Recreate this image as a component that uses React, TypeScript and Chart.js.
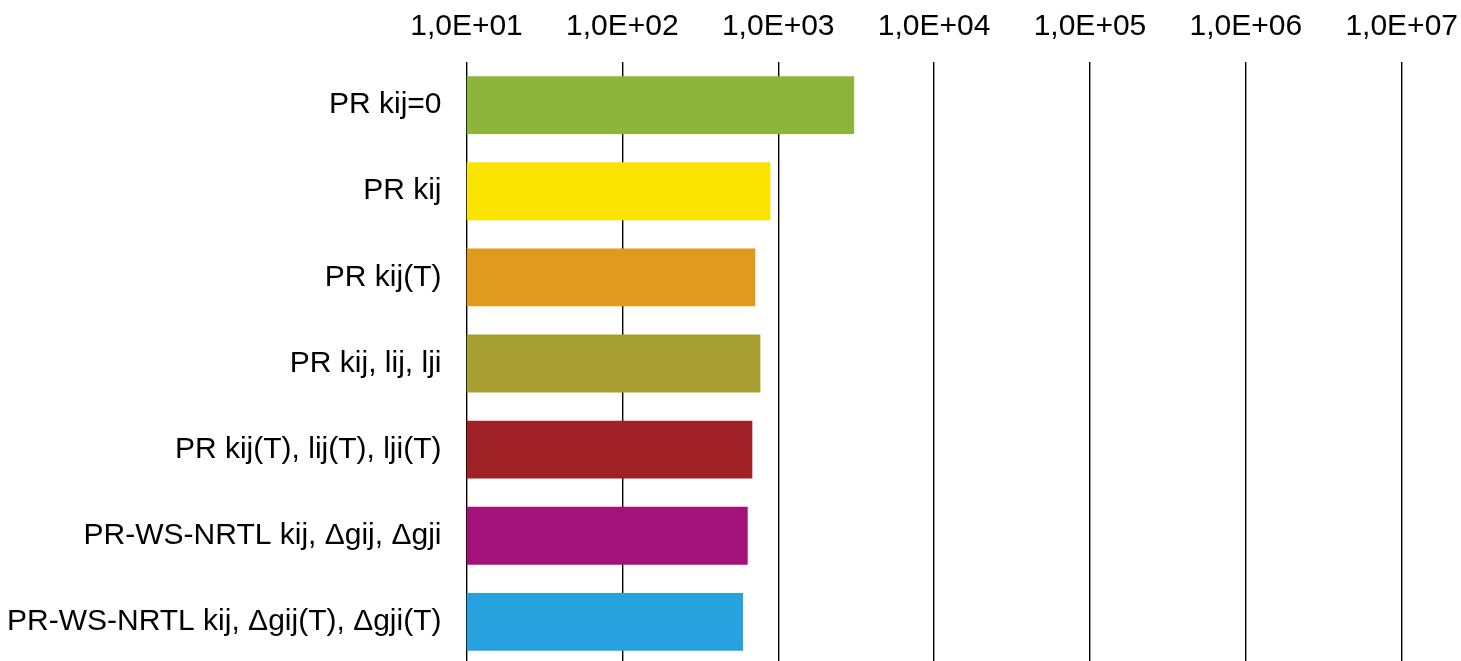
import React, { useEffect, useRef } from "react";
import { Chart, registerables } from "chart.js";

Chart.register(...registerables);

const categories = [
  "PR kij=0",
  "PR kij",
  "PR kij(T)",
  "PR kij, lij, lji",
  "PR kij(T), lij(T), lji(T)",
  "PR-WS-NRTL kij, Δgij, Δgji",
  "PR-WS-NRTL kij, Δgij(T), Δgji(T)",
];

const values = [3070, 891, 713, 768, 682, 637, 595];

const barColors = [
  "#8DB53C",
  "#FBE300",
  "#E09B1F",
  "#A89F33",
  "#A02125",
  "#A21278",
  "#28A2DF",
];

const tickValues = [1e1, 1e2, 1e3, 1e4, 1e5, 1e6, 1e7];

const FONT = "'Liberation Sans', Arial, sans-serif";

export default function App() {
  const canvasRef = useRef<HTMLCanvasElement | null>(null);

  useEffect(() => {
    const canvas = canvasRef.current;
    if (!canvas) return;
    const chart = new Chart(canvas, {
      type: "bar",
      data: {
        labels: categories,
        datasets: [
          {
            data: values,
            backgroundColor: barColors,
            borderWidth: 0,
            categoryPercentage: 1,
            barPercentage: 0.672,
          },
        ],
      },
      options: {
        indexAxis: "y",
        animation: false,
        responsive: false,
        maintainAspectRatio: false,
        events: [],
        layout: { padding: { top: -8, right: 47, left: 0, bottom: 0 } },
        plugins: {
          legend: { display: false },
          tooltip: { enabled: false },
        },
        scales: {
          x: {
            type: "logarithmic",
            position: "top",
            min: 10,
            max: 1e7,
            afterBuildTicks: (scale: any) => {
              scale.ticks = tickValues.map((v) => ({ value: v, major: true }));
            },
            ticks: {
              autoSkip: false,
              maxRotation: 0,
              minRotation: 0,
              padding: 17,
              color: "#000",
              font: { family: FONT, size: 30 },
              callback: (v: any) => {
                const e = Math.round(Math.log10(Number(v)));
                return "1,0E+" + String(e).padStart(2, "0");
              },
            },
            grid: {
              display: true,
              drawTicks: false,
              color: "#000",
              lineWidth: 1.4,
            },
            border: { display: false },
          },
          y: {
            position: "left",
            afterFit: (scale: any) => {
              scale.width = 466.5;
            },
            ticks: {
              padding: 25,
              color: "#000",
              font: { family: FONT, size: 30 },
            },
            grid: { display: false, drawTicks: false },
            border: { display: false },
          },
        },
      },
    });
    return () => chart.destroy();
  }, []);

  return (
    <div
      style={{
        position: "fixed",
        left: 0,
        top: 0,
        width: 1475,
        height: 708,
        background: "#fff",
      }}
    >
      <canvas ref={canvasRef} width={1475} height={708} style={{ display: "block" }} />
    </div>
  );
}
